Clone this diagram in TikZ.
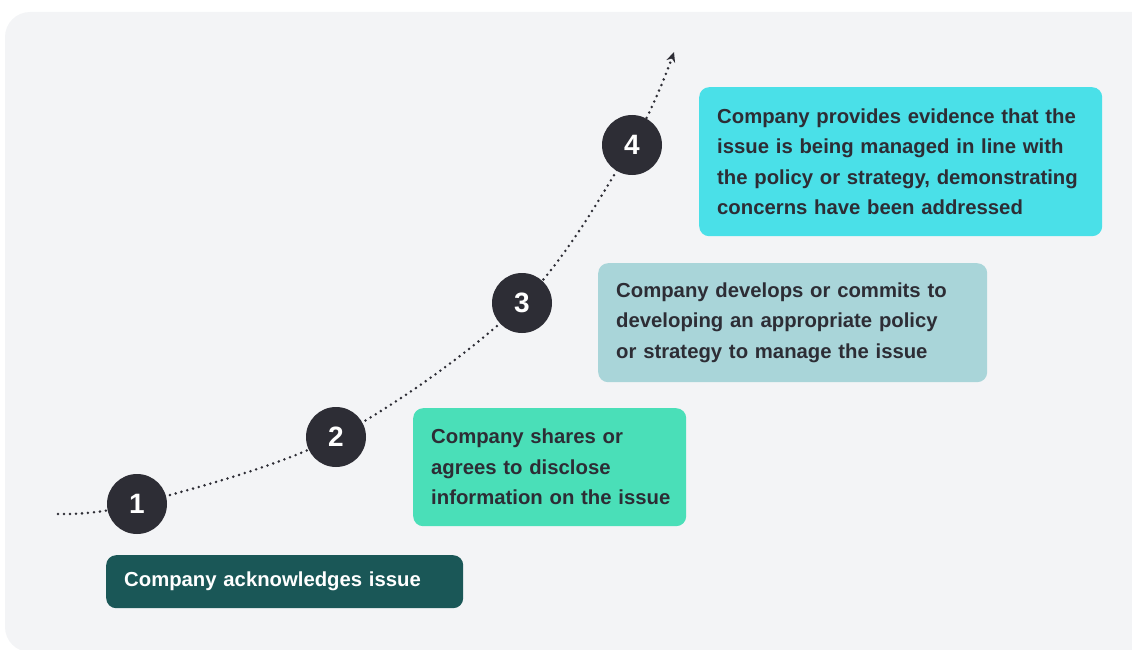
\documentclass[tikz,border=0pt]{standalone}
\usepackage{fontspec}
\setmainfont{Liberation Sans}
\usetikzlibrary{arrows.meta}

\definecolor{panelgray}{HTML}{F3F4F6}
\definecolor{stepdark}{HTML}{2D2D35}
\definecolor{teal1}{HTML}{1A5757}
\definecolor{mint2}{HTML}{4ADFB8}
\definecolor{sage3}{HTML}{A9D5D9}
\definecolor{aqua4}{HTML}{4AE0E8}

\begin{document}
\begin{tikzpicture}[x=1pt, y=-1pt,
    stepdot/.style={circle, fill=stepdark, minimum size=60pt, inner sep=0pt,
        text=white, font=\fontsize{28}{30}\selectfont\bfseries},
    stepbox/.style={rectangle, rounded corners=10pt, anchor=north west, align=left,
        inner xsep=18pt, inner ysep=0pt, text=stepdark,
        font=\fontsize{20.3}{30.5}\selectfont\bfseries},
    trail/.style={stepdark, line width=2.8pt, line cap=round, dash pattern=on 0pt off 6pt}]

    \useasboundingbox (0,0) rectangle (1132,650);

    % Panel
    \fill[panelgray, rounded corners=25pt] (5,12) rectangle (1170,652);

    % Path points
    \coordinate (start) at (58,514);
    \coordinate (p1) at (137,504);
    \coordinate (p2) at (336,437);
    \coordinate (p3) at (522,303);
    \coordinate (p4) at (632,145);
    \coordinate (tip) at (674,52);

    % Growth curve
    \draw[trail, -{Stealth[length=10pt, width=9pt]}]
        plot[smooth, tension=0.55] coordinates {(start) (p1) (p2) (p3) (p4) (tip)};

    % Steps
    \node[stepdot] (s1) at (p1) {1};
    \node[stepdot] (s2) at (p2) {2};
    \node[stepdot] (s3) at (p3) {3};
    \node[stepdot] (s4) at (p4) {4};

    % Boxes
    \node[stepbox, fill=teal1, text=white, text width=321pt, minimum height=53pt] (b1) at (106,555)
        {Company acknowledges issue};
    \node[stepbox, fill=mint2, text width=237pt, minimum height=118pt] (b2) at (413,408)
        {Company shares or\\agrees to disclose\\\mbox{information on the issue}};
    \node[stepbox, fill=sage3, text width=353pt, minimum height=119pt] (b3) at (598,263)
        {Company develops or commits to\\developing an appropriate policy\\or strategy to manage the issue};
    \node[stepbox, fill=aqua4, text width=367pt, minimum height=149pt] (b4) at (699,87)
        {Company provides evidence that the\\issue is being managed in line with\\the policy or strategy, demonstrating\\concerns have been addressed};
\end{tikzpicture}
\end{document}
